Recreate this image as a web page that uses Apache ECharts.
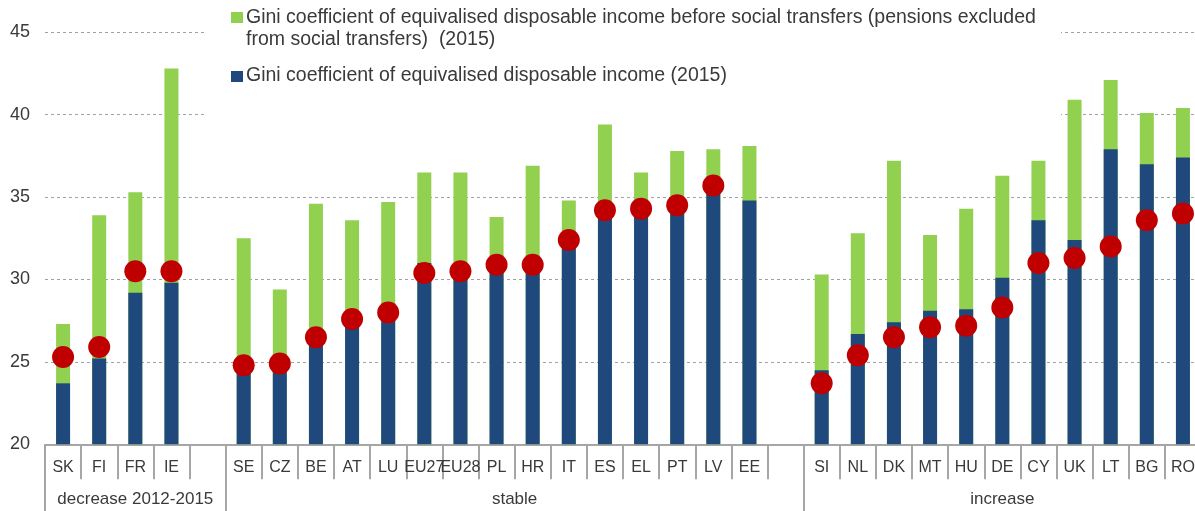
<!DOCTYPE html>
<html>
<head>
<meta charset="utf-8">
<title>Gini coefficient of equivalised disposable income</title>
<script src="https://cdn.jsdelivr.net/npm/echarts@6/dist/echarts.min.js"></script>
<style>
  html, body { margin: 0; padding: 0; background: #fff; overflow: hidden; width: 1195px; height: 511px; }
  /* the plot runs slightly past the right edge of the page, so the canvas is a little wider */
  #chart { width: 1202px; height: 511px; }
</style>
</head>
<body>
<div id="chart"></div>
<script>
// Country codes; empty strings are spacer columns between the groups
const categories = ['SK','FI','FR','IE','',
  'SE','CZ','BE','AT','LU','EU27','EU28','PL','HR','IT','ES','EL','PT','LV','EE','',
  'SI','NL','DK','MT','HU','DE','CY','UK','LT','BG','RO'];

// Gini before social transfers (pensions excluded from social transfers), 2015
const giniBefore = [27.3, 33.9, 35.3, 42.8, null,
  32.5, 29.4, 34.6, 33.6, 34.7, 36.5, 36.5, 33.8, 36.9, 34.8, 39.4, 36.5, 37.8, 37.9, 38.1, null,
  30.3, 32.8, 37.2, 32.7, 34.3, 36.3, 37.2, 40.9, 42.1, 40.1, 40.4];

// Gini of equivalised disposable income, 2015
const giniAfter = [23.7, 25.2, 29.2, 29.8, null,
  25.2, 25.0, 26.2, 27.2, 28.5, 31.0, 31.0, 30.6, 30.4, 32.4, 34.6, 34.2, 34.0, 35.4, 34.8, null,
  24.5, 26.7, 27.4, 28.1, 28.2, 30.1, 33.6, 32.4, 37.9, 37.0, 37.4];

// Gini of equivalised disposable income, 2012 (red markers)
const gini2012 = [25.3, 25.9, 30.5, 30.5, null,
  24.8, 24.9, 26.5, 27.6, 28.0, 30.4, 30.5, 30.9, 30.9, 32.4, 34.2, 34.3, 34.5, 35.7, null, null,
  23.7, 25.4, 26.5, 27.1, 27.2, 28.3, 31.0, 31.3, 32.0, 33.6, 34.0];

// Groups of columns along the category axis
const groupNames = ['decrease 2012-2015', 'stable', 'increase'];
const groupSpans = [5, 16, 11];

const legendBefore = ['Gini coefficient of equivalised disposable income before social transfers (pensions excluded',
                      'from social transfers)  (2015)'];
const legendAfter = 'Gini coefficient of equivalised disposable income (2015)';

// Group boundaries and centres in category units
const groupEdges = [0];
groupSpans.forEach(s => groupEdges.push(groupEdges[groupEdges.length - 1] + s));
const groupCentres = groupSpans.map((s, i) => groupEdges[i] + s / 2);

const FONT = '"Liberation Sans", Arial, sans-serif';
const TXT = '#3a3a3a';
const GREEN = '#92D050';
const BLUE = '#1F497D';
const RED = '#C00000';

const chart = echarts.init(document.getElementById('chart'), null, { renderer: 'canvas' });

chart.setOption({
  animation: false,
  backgroundColor: '#ffffff',
  grid: { left: 45, top: 32.3, right: 1, height: 412, containLabel: false },
  xAxis: [
    {
      type: 'category',
      data: categories,
      boundaryGap: true,
      axisLine: { show: true, lineStyle: { color: '#a6a6a6', width: 2 } },
      axisTick: { show: true, interval: 0, length: 35, lineStyle: { color: '#a6a6a6', width: 2 } },
      axisLabel: { interval: 0, margin: 15, fontSize: 16, color: TXT, fontFamily: FONT },
      splitLine: { show: false },
      z: 1
    },
    {
      type: 'value',
      min: 0,
      max: groupEdges[groupEdges.length - 1],
      position: 'bottom',
      axisLine: { show: false },
      splitLine: { show: false },
      axisTick: { show: true, customValues: groupEdges, length: 67, lineStyle: { color: '#a6a6a6', width: 2 } },
      axisLabel: {
        show: true,
        customValues: groupCentres,
        margin: 47,
        fontSize: 17,
        color: TXT,
        fontFamily: FONT,
        formatter: v => {
          const i = groupCentres.indexOf(v);
          return i >= 0 ? groupNames[i] : '';
        }
      },
      z: 1
    }
  ],
  yAxis: {
    type: 'value',
    min: 20,
    max: 45,
    interval: 5,
    axisLine: { show: false },
    axisTick: { show: false },
    axisLabel: { margin: 15, fontSize: 18, color: TXT, fontFamily: FONT },
    splitLine: { show: true, lineStyle: { color: '#a0a0a0', type: [3, 3], width: 1 } },
    z: 0
  },
  graphic: [
    // white legend panel sitting over the top gridlines
    { type: 'rect', shape: { x: 207, y: 0, width: 854, height: 120 }, style: { fill: '#ffffff' }, z: 1, silent: true },
    { type: 'rect', shape: { x: 231, y: 12, width: 12, height: 11 }, style: { fill: GREEN }, z: 5 },
    { type: 'text', x: 246, y: 18, style: { text: legendBefore[0], fontSize: 19.5, fontFamily: FONT, fill: TXT, verticalAlign: 'middle' }, z: 5 },
    { type: 'text', x: 246, y: 40, style: { text: legendBefore[1], fontSize: 19.5, fontFamily: FONT, fill: TXT, verticalAlign: 'middle' }, z: 5 },
    { type: 'rect', shape: { x: 231, y: 71, width: 12, height: 11 }, style: { fill: BLUE }, z: 5 },
    { type: 'text', x: 246, y: 76, style: { text: legendAfter, fontSize: 19.5, fontFamily: FONT, fill: TXT, verticalAlign: 'middle' }, z: 5 }
  ],
  series: [
    {
      name: legendBefore.join(' '),
      type: 'bar',
      xAxisIndex: 0,
      data: giniBefore,
      barWidth: 14,
      barGap: '-100%',
      itemStyle: { color: GREEN },
      z: 2
    },
    {
      name: legendAfter,
      type: 'bar',
      xAxisIndex: 0,
      data: giniAfter,
      barWidth: 14,
      barGap: '-100%',
      itemStyle: { color: BLUE },
      z: 3
    },
    {
      name: '2012',
      type: 'scatter',
      xAxisIndex: 0,
      data: gini2012,
      symbol: 'circle',
      symbolSize: 22,
      itemStyle: { color: RED, opacity: 1 },
      z: 4
    }
  ]
});
</script>
</body>
</html>
